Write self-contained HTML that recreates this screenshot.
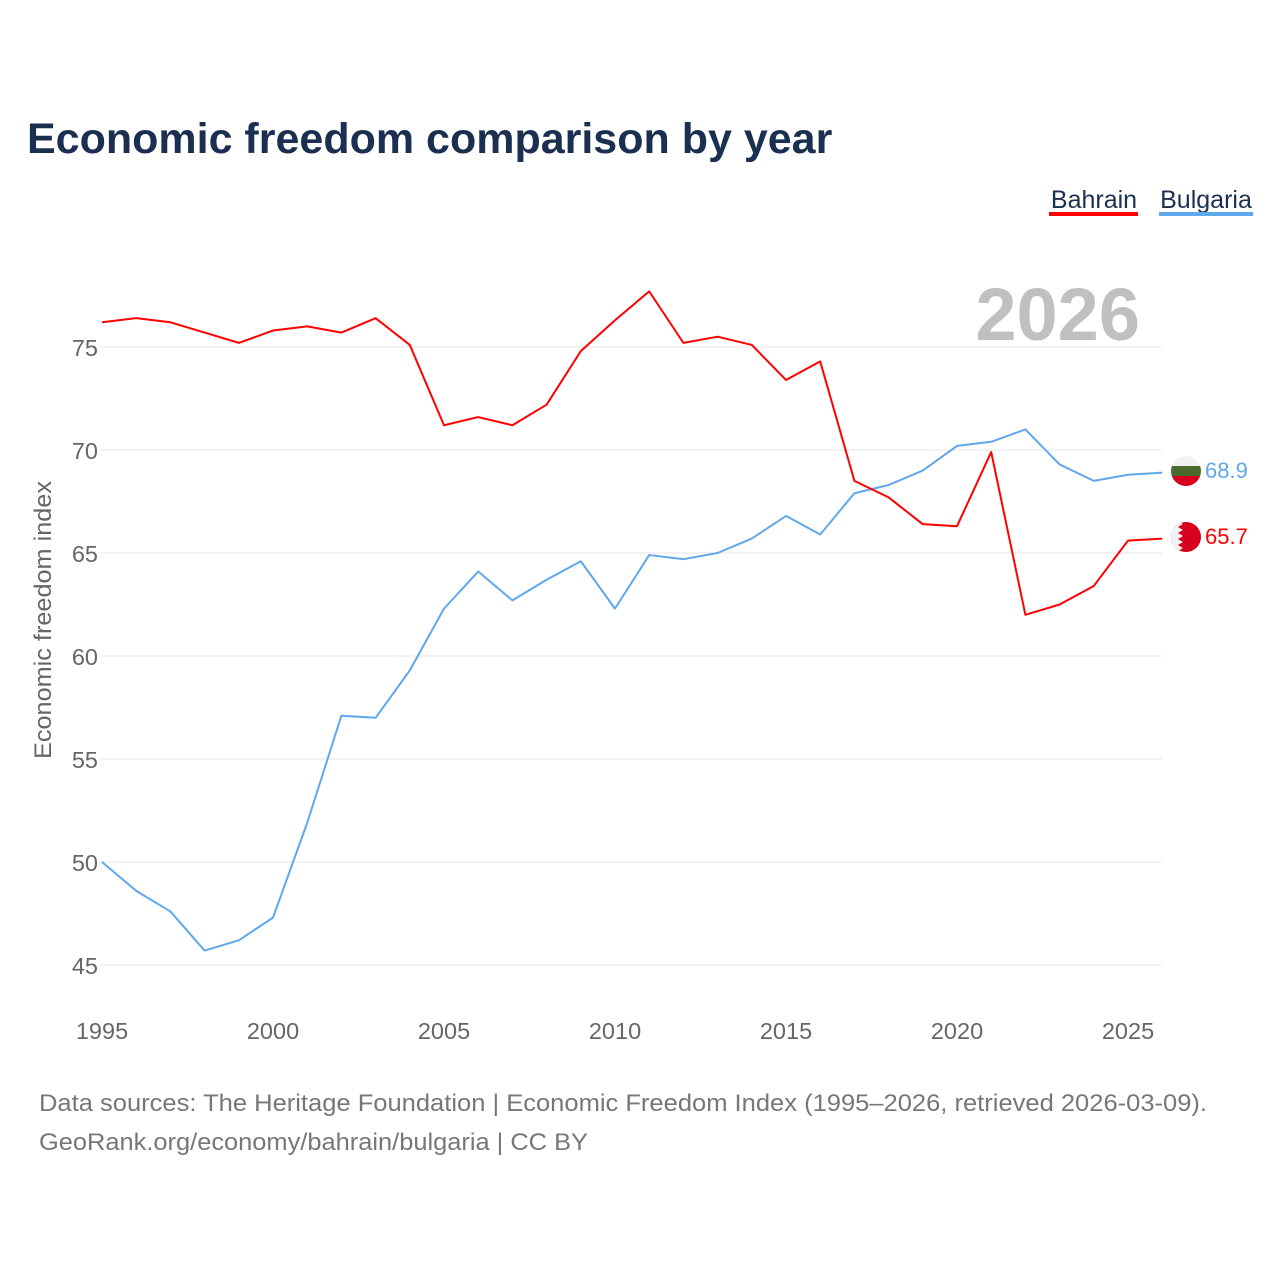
<!DOCTYPE html>
<html><head><meta charset="utf-8"><style>
body{margin:0;background:#fff;font-family:"Liberation Sans",sans-serif}
svg text{font-family:"Liberation Sans",sans-serif}
</style></head><body>
<svg id="chart" width="1280" height="1280" viewBox="0 0 1280 1280">
<rect width="1280" height="1280" fill="#fff"/>
<text x="27" y="153" font-size="43" font-weight="bold" fill="#1b2f50">Economic freedom comparison by year</text>
<g>
<text x="1094" y="208" font-size="25" fill="#1b2f50" text-anchor="middle">Bahrain</text>
<rect x="1049" y="212" width="89" height="4" fill="#ff0000"/></g>
<g>
<text x="1206" y="208" font-size="25" fill="#1b2f50" text-anchor="middle">Bulgaria</text>
<rect x="1159" y="212" width="94" height="4" fill="#5fa8ec"/></g>
<text x="1140" y="340" font-size="74" font-weight="bold" fill="#c0c0c0" text-anchor="end">2026</text>
<g id="grid"></g><g id="yticks"></g><g id="xticks"></g>
<text transform="translate(51,620) rotate(-90)" font-size="24" fill="#666" text-anchor="middle" textLength="278" lengthAdjust="spacingAndGlyphs">Economic freedom index</text>
<g id="series"></g>
<g>
<clipPath id="cb"><circle cx="1186" cy="471" r="15"/></clipPath>
<g clip-path="url(#cb)"><rect x="1170" y="455" width="32" height="11" fill="#f2f2f2"/><rect x="1170" y="466" width="32" height="10" fill="#4a6b2e"/><rect x="1170" y="476" width="32" height="11" fill="#d6001c"/></g></g>
<g>
<clipPath id="cbh"><circle cx="1186" cy="537" r="15"/></clipPath>
<g clip-path="url(#cbh)"><rect x="1170" y="521" width="32" height="32" fill="#d6001c"/>
<polygon points="1170,521 1178,521 1183,524 1178,527 1183,530 1178,533 1183,536 1178,539 1183,542 1178,545 1183,548 1178,551 1178,553 1170,553" fill="#f2f2f2"/></g></g>
<text x="1205" y="478" font-size="22" fill="#5fa8ec">68.9</text>
<text x="1205" y="544" font-size="22" fill="#ff0000">65.7</text>
<text x="39" y="1111" font-size="24" fill="#777" textLength="1168" lengthAdjust="spacingAndGlyphs">Data sources: The Heritage Foundation | Economic Freedom Index (1995–2026, retrieved 2026-03-09).</text>
<text x="39" y="1150" font-size="24" fill="#777" textLength="549" lengthAdjust="spacingAndGlyphs">GeoRank.org/economy/bahrain/bulgaria | CC BY</text>
</svg>
<script>
const years=[1995,1996,1997,1998,1999,2000,2001,2002,2003,2004,2005,2006,2007,2008,2009,2010,2011,2012,2013,2014,2015,2016,2017,2018,2019,2020,2021,2022,2023,2024,2025,2026];
const bahrain=[76.2,76.4,76.2,75.7,75.2,75.8,76.0,75.7,76.4,75.1,71.2,71.6,71.2,72.2,74.8,76.3,77.7,75.2,75.5,75.1,73.4,74.3,68.5,67.7,66.4,66.3,69.9,62.0,62.5,63.4,65.6,65.7];
const bulgaria=[50.0,48.6,47.6,45.7,46.2,47.3,51.9,57.1,57.0,59.3,62.3,64.1,62.7,63.7,64.6,62.3,64.9,64.7,65.0,65.7,66.8,65.9,67.9,68.3,69.0,70.2,70.4,71.0,69.3,68.5,68.8,68.9];
const yTicks=[45,50,55,60,65,70,75];
const xTicks=[1995,2000,2005,2010,2015,2020,2025];
const NS="http://www.w3.org/2000/svg";
const xs=y=>102+(y-1995)*34.2;
const ys=v=>347+(75-v)*20.6;
function mk(t,a,p){const e=document.createElementNS(NS,t);for(const k in a)e.setAttribute(k,a[k]);p.appendChild(e);return e;}
const g=document.getElementById('grid'),yt=document.getElementById('yticks'),xt=document.getElementById('xticks'),s=document.getElementById('series');
yTicks.forEach(v=>{
const l=mk('line',{x1:100,x2:1162,y1:ys(v),y2:ys(v),stroke:'#e6e6e6','stroke-width':1},g);


const t=mk('text',{x:98,y:ys(v)+9,'font-size':23.5,fill:'#666','text-anchor':'end'},yt);t.textContent=v;


});
xTicks.forEach(v=>{
const t=mk('text',{x:xs(v),y:1039,'font-size':23.5,fill:'#666','text-anchor':'middle'},xt);t.textContent=v;


});
function line(d,c,n){
const p=mk('polyline',{points:d.map((v,i)=>xs(years[i])+','+ys(v)).join(' '),fill:'none',stroke:c,'stroke-width':2,'stroke-linejoin':'round'},s);


}
line(bulgaria,'#5fa8ec','bulgaria-line');
line(bahrain,'#ff0000','bahrain-line');
</script>
</body></html>
